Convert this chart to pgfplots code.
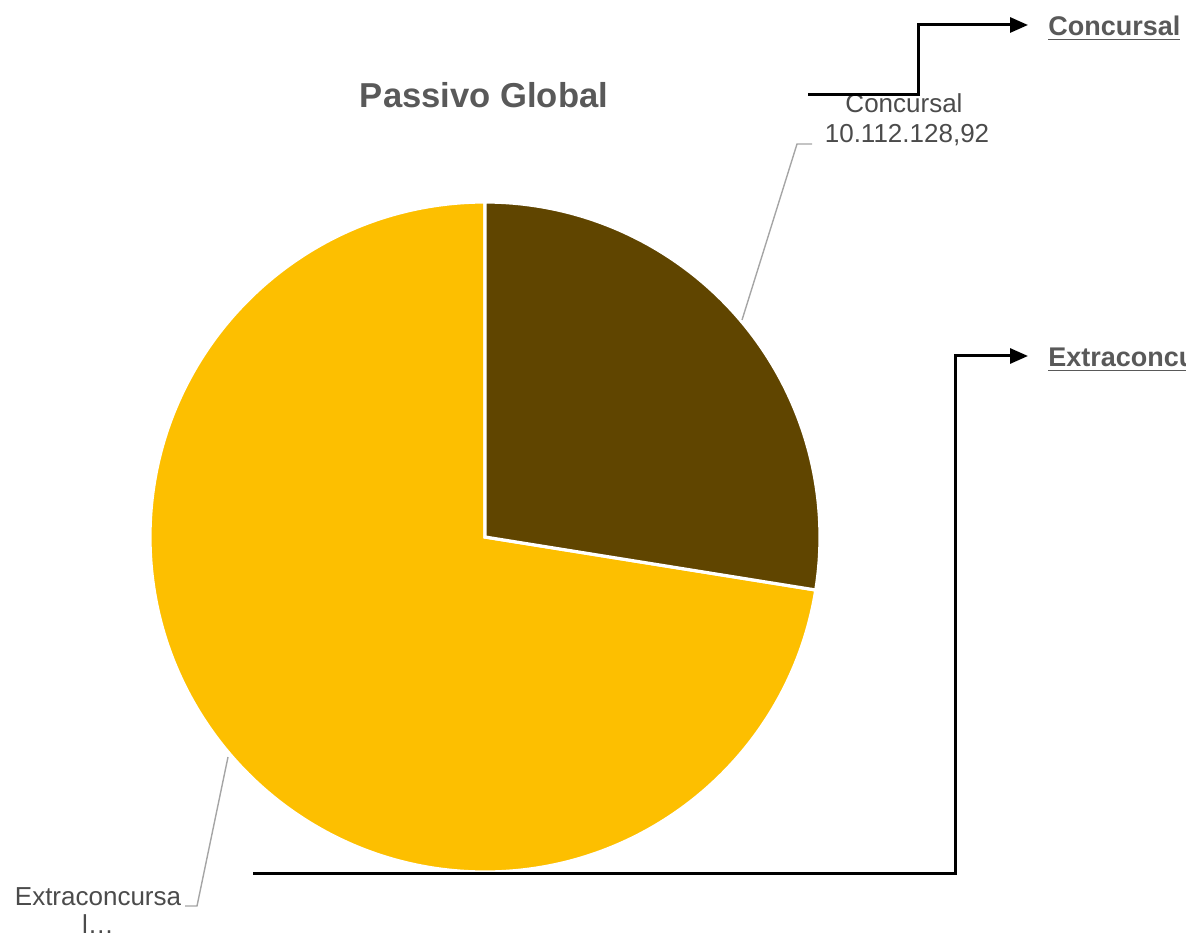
\documentclass[border=0pt]{standalone}
\usepackage{pgfplots}
\pgfplotsset{compat=1.18}
\usepackage{pgfplotstable}
\usepackage{fontspec}
\setmainfont{Liberation Sans}
\usetikzlibrary{arrows.meta}
\definecolor{conc}{RGB}{96,69,0}
\definecolor{extra}{RGB}{253,191,0}
\definecolor{titlegray}{RGB}{89,89,89}
\definecolor{labgray}{RGB}{75,75,75}
\definecolor{leader}{RGB}{165,165,165}

\pgfplotstableread{
label value
Concursal 10112128.92
Extraconcursal 26620000
}\passivo

\begin{document}
\pgfplotstablegetelem{0}{value}\of\passivo \edef\vA{\pgfplotsretval}%
\pgfplotstablegetelem{1}{value}\of\passivo \edef\vB{\pgfplotsretval}%
\edef\angA{\fpeval{360*\vA/(\vA+\vB)}}%
\edef\angB{\fpeval{360*\vB/(\vA+\vB)}}%
\begin{tikzpicture}
\useasboundingbox (0,0) rectangle (593pt,469pt);
\clip (0,0) rectangle (593pt,469pt);
\begin{axis}[at={(0,0)}, anchor=south west, scale only axis,
  width=593pt, height=469pt, hide axis,
  xmin=0, xmax=1186, ymin=0, ymax=938, clip=false]
% pie slices (center 485,401; radius 335 units = 167.5pt)
\fill[extra, draw=white, line width=1.6pt] (485,736) arc[start angle=90, end angle={90+\angB}, radius=167.5pt] -- (485,401) -- cycle;
\fill[conc, draw=white, line width=1.6pt] (485,736) arc[start angle=90, end angle={90-\angA}, radius=167.5pt] -- (485,401) -- cycle;
% title
\node[anchor=base, text=titlegray, font=\bfseries\fontsize{17.3}{20}\selectfont] at (484,830) {Passivo Global};
% data labels
\draw[leader, line width=0.7pt] (742,618) -- (797,794) -- (812,794);
\node[anchor=base, text=labgray, font=\fontsize{13}{15}\selectfont] at (904,825) {Concursal};
\node[anchor=base, text=labgray, font=\fontsize{13}{15}\selectfont] at (907,795) {10.112.128,92};
\draw[leader, line width=0.7pt] (228,181) -- (197,32) -- (185,32);
\node[anchor=base, text=labgray, font=\fontsize{13}{15}\selectfont] at (98,33) {Extraconcursa};
\node[anchor=base, text=labgray, font=\fontsize{13}{15}\selectfont] at (98,5) {l…};
% black arrows
\draw[black, line width=1.5pt, -{Triangle[length=9pt,width=7.5pt]}] (808,843) -- (918,843) -- (918,913) -- (1028,913);
\draw[black, line width=1.5pt, -{Triangle[length=9pt,width=7.5pt]}] (253,65) -- (955,65) -- (955,582) -- (1028,582);
\node[anchor=base west, inner sep=0pt, text=titlegray, font=\bfseries\fontsize{13.5}{16}\selectfont] at (1048,902) {\underline{Concursal}};
\node[anchor=base west, inner sep=0pt, text=titlegray, font=\bfseries\fontsize{13.5}{16}\selectfont] at (1048,571) {\underline{Extraconcursal}};
\end{axis}
\end{tikzpicture}
\end{document}
